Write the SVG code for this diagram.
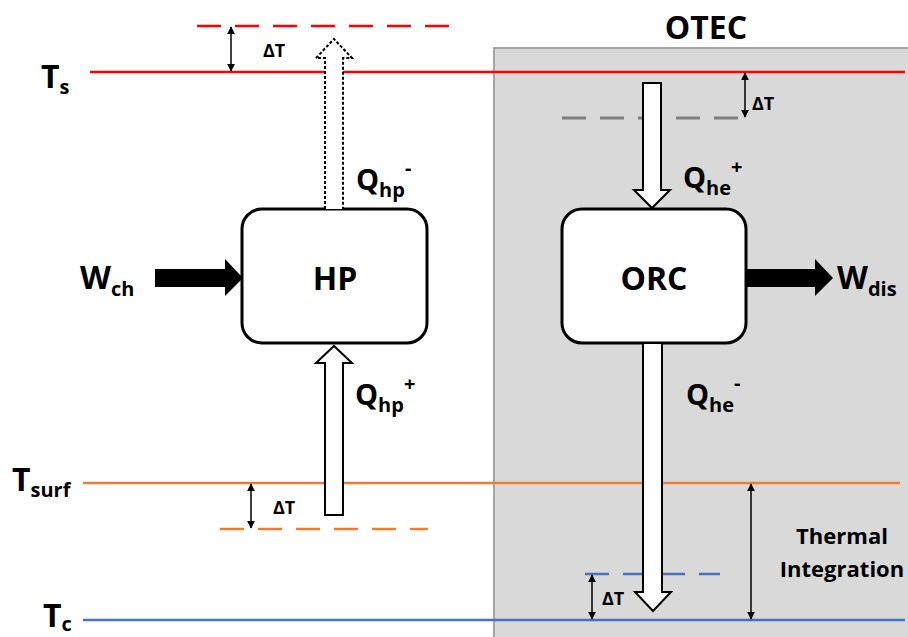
<svg xmlns="http://www.w3.org/2000/svg" width="908" height="637" viewBox="0 0 908 637">
<defs>
<style>
text{font-family:"Open Sans","Liberation Sans",sans-serif;font-weight:bold;fill:#000}
.big{font-size:32px}
.q{font-size:29px}
.sub{font-size:20px}
.dt{font-size:18px}
.box{fill:#fff;stroke:#000;stroke-width:3}
.harrow{fill:#fff;stroke:#000;stroke-width:2}
.warrow{fill:#000;stroke:none}
.dim{stroke:#000;stroke-width:1.5;fill:none}
</style>
<marker id="ah" viewBox="0 0 10 10" refX="9" refY="5" markerWidth="8" markerHeight="10" markerUnits="userSpaceOnUse" orient="auto-start-reverse">
<path d="M0,0 L10,5 L0,10 z" fill="#000"/>
</marker>
</defs>
<rect id="otec-zone" x="494" y="48" width="420" height="600" fill="#d9d9d9" stroke="#a6a6a6" stroke-width="2"/>
<text x="706" y="39" text-anchor="middle" style="font-size:32px">OTEC</text>

<g id="levels">
<line x1="90" y1="72" x2="905" y2="72" stroke="#ff0000" stroke-width="2.5"/>
<line x1="197" y1="26" x2="452" y2="26" stroke="#ff0000" stroke-width="2.5" stroke-dasharray="24,14"/>
<line x1="83" y1="483" x2="900" y2="483" stroke="#ed7d31" stroke-width="2.5"/>
<line x1="220" y1="529" x2="428" y2="529" stroke="#ed7d31" stroke-width="2.5" stroke-dasharray="24,14"/>
<line x1="83" y1="620" x2="905" y2="620" stroke="#4472c4" stroke-width="2.5"/>
<line x1="585" y1="574" x2="720" y2="574" stroke="#4472c4" stroke-width="2.5" stroke-dasharray="24,14"/>
<line x1="562" y1="118" x2="742" y2="118" stroke="#7f7f7f" stroke-width="3" stroke-dasharray="24,14"/>
</g>

<g id="labels">
<text x="41" y="88" class="big">T<tspan class="sub" dy="6">s</tspan></text>
<text x="12" y="491" class="big">T<tspan class="sub" dy="6">surf</tspan></text>
<text x="43" y="627" class="big">T<tspan class="sub" dy="4">c</tspan></text>
<text x="80" y="289" class="big">W<tspan class="sub" dy="7">ch</tspan></text>
<text x="837" y="289" class="big">W<tspan class="sub" dy="7">dis</tspan></text>
<text x="356" y="190" class="q">Q<tspan class="sub" dy="7">hp</tspan><tspan class="sub" dy="-22">-</tspan></text>
<text x="355" y="405" class="q">Q<tspan class="sub" dy="7">hp</tspan><tspan class="sub" dy="-21">+</tspan></text>
<text x="683" y="188" class="q">Q<tspan class="sub" dy="7">he</tspan><tspan class="sub" dy="-21">+</tspan></text>
<text x="686" y="405" class="q">Q<tspan class="sub" dy="7">he</tspan><tspan class="sub" dy="-22">-</tspan></text>
<text x="842" y="544" text-anchor="middle" style="font-size:22px">Thermal</text>
<text x="842" y="577" text-anchor="middle" style="font-size:22px">Integration</text>
<text x="263" y="57" class="dt">ΔT</text>
<text x="752" y="110" class="dt">ΔT</text>
<text x="273" y="514" class="dt">ΔT</text>
<text x="602" y="605" class="dt">ΔT</text>
</g>

<g id="HP">
<rect x="242" y="209" width="185" height="134" rx="20" class="box"/>
<text x="335" y="290" text-anchor="middle" class="big">HP</text>
</g>
<g id="ORC">
<rect x="562" y="209" width="184" height="134" rx="20" class="box"/>
<text x="654" y="290" text-anchor="middle" class="big">ORC</text>
</g>

<g id="connectors">
<path d="M325,209 V58 H316 L334,39 L352,58 H343 V209" class="harrow" stroke-dasharray="3,2"/>
<path d="M325,515 V363 H316 L334,346 L352,363 H343 V515 Z" class="harrow"/>
<path d="M643,83 V190 H634 L652,208 L670,190 H661 V83 Z" class="harrow"/>
<path d="M643,344 V592 H635 L653,611 L671,592 H662 V344" class="harrow"/>
<path d="M155,269 H225 V259 L243,278 L225,296 V287 H155 Z" class="warrow"/>
<path d="M747,269 H815 V259 L833,278 L815,296 V287 H747 Z" class="warrow"/>
<line x1="231" y1="27" x2="231" y2="71" class="dim" marker-start="url(#ah)" marker-end="url(#ah)"/>
<line x1="745" y1="73" x2="745" y2="117" class="dim" marker-start="url(#ah)" marker-end="url(#ah)"/>
<line x1="251" y1="484" x2="251" y2="528" class="dim" marker-start="url(#ah)" marker-end="url(#ah)"/>
<line x1="592" y1="575" x2="592" y2="619" class="dim" marker-start="url(#ah)" marker-end="url(#ah)"/>
<line x1="751" y1="484" x2="751" y2="619" class="dim" marker-start="url(#ah)" marker-end="url(#ah)"/>
</g>
</svg>
